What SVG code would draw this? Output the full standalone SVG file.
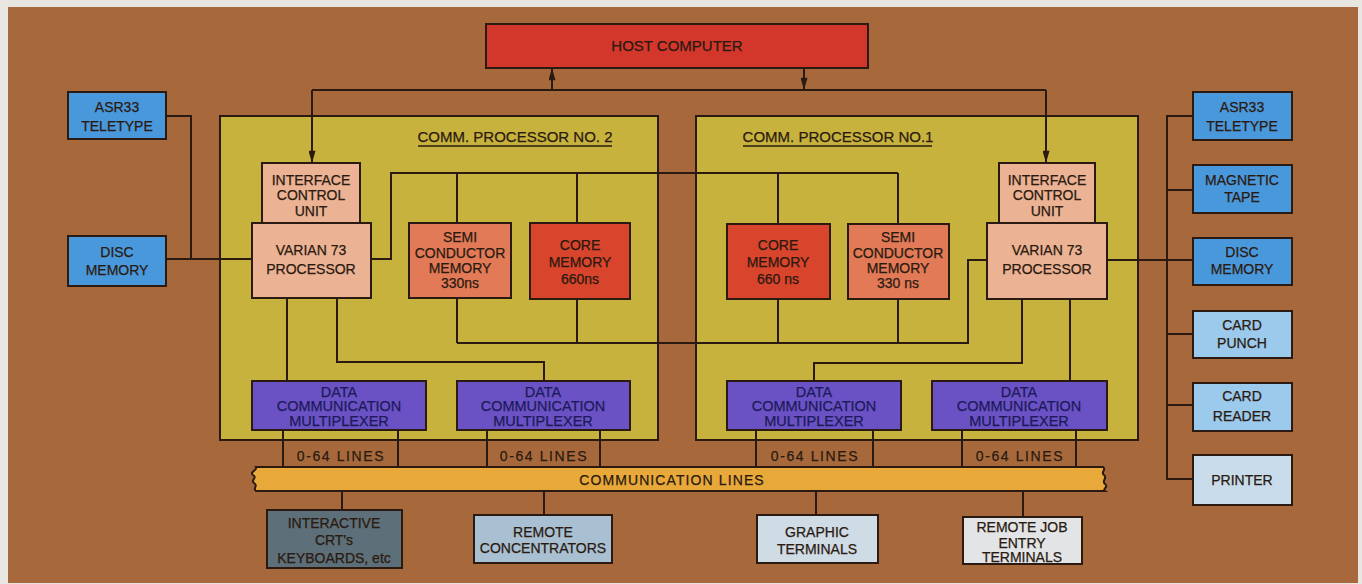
<svg xmlns="http://www.w3.org/2000/svg" width="1362" height="584" viewBox="0 0 1362 584">
<defs>
<style>
.t{font-family:"Liberation Sans",Arial,sans-serif;font-size:14px;fill:#2a1a10;text-anchor:middle;stroke:#2a1a10;stroke-width:0.25}
.big{font-size:15px}
.mx{fill:#1e1a5a;stroke:#1e1a5a;font-size:14.5px}
.sp{letter-spacing:1.6px}
.box{stroke:#2a1a12;stroke-width:2}
.ln{fill:none;stroke:#2a1a12;stroke-width:2}
.cp{fill:#c8b23e;stroke:#2a1a12;stroke-width:2}
.blue{fill:#4a98dc}
.lblue{fill:#9ccaec}
.vlblue{fill:#c9dcec}
.peach{fill:#ecb294}
.semi{fill:#e27a58}
.core{fill:#d8442c}
.mux{fill:#6a52c4}
</style>
<marker id="arr" viewBox="0 0 14 8" refX="14" refY="4" markerWidth="14" markerHeight="7" markerUnits="userSpaceOnUse" orient="auto">
<path d="M0,0 L14,4 L0,8 z" fill="#2a1a12"/>
</marker>
</defs>
<rect x="0" y="0" width="1362" height="584" fill="#e8e6e1"/>
<rect x="8" y="7" width="1350" height="576" fill="#a7693c"/>

<g id="cp2"><rect class="cp" x="220" y="116" width="438" height="324"/>
<text class="t big" x="515" y="142">COMM. PROCESSOR NO. 2</text>
<line x1="418" y1="146" x2="612" y2="146" stroke="#2a1a12" stroke-width="1.5"/></g>
<g id="cp1"><rect class="cp" x="696" y="116" width="442" height="324"/>
<text class="t big" x="838" y="142">COMM. PROCESSOR NO.1</text>
<line x1="743" y1="146" x2="932" y2="146" stroke="#2a1a12" stroke-width="1.5"/></g>

<g id="connectors">
<line class="ln" x1="552" y1="90" x2="552" y2="68" marker-end="url(#arr)"/>
<line class="ln" x1="804" y1="68" x2="804" y2="90" marker-end="url(#arr)"/>
<polyline class="ln" points="312,90 1046,90"/>
<line class="ln" x1="312" y1="90" x2="312" y2="163" marker-end="url(#arr)"/>
<line class="ln" x1="1046" y1="90" x2="1046" y2="163" marker-end="url(#arr)"/>
<polyline class="ln" points="166,116 191,116 191,259"/>
<line class="ln" x1="166" y1="259" x2="252" y2="259"/>
<polyline class="ln" points="371,259 391,259 391,173 898,173"/>
<line class="ln" x1="457" y1="173" x2="457" y2="223"/>
<line class="ln" x1="577" y1="173" x2="577" y2="223"/>
<line class="ln" x1="778" y1="173" x2="778" y2="223"/>
<line class="ln" x1="898" y1="173" x2="898" y2="223"/>
<polyline class="ln" points="987,260 968,260 968,343 457,343"/>
<line class="ln" x1="457" y1="299" x2="457" y2="343"/>
<line class="ln" x1="577" y1="299" x2="577" y2="343"/>
<line class="ln" x1="778" y1="299" x2="778" y2="343"/>
<line class="ln" x1="898" y1="299" x2="898" y2="343"/>
<line class="ln" x1="287" y1="298" x2="287" y2="381"/>
<polyline class="ln" points="337,298 337,362 544,362 544,381"/>
<polyline class="ln" points="1022,299 1022,363 814,363 814,381"/>
<line class="ln" x1="1070" y1="299" x2="1070" y2="381"/>
<line class="ln" x1="283" y1="430" x2="283" y2="467"/>
<line class="ln" x1="398" y1="430" x2="398" y2="467"/>
<line class="ln" x1="487" y1="430" x2="487" y2="467"/>
<line class="ln" x1="600" y1="430" x2="600" y2="467"/>
<line class="ln" x1="756" y1="430" x2="756" y2="467"/>
<line class="ln" x1="873" y1="430" x2="873" y2="467"/>
<line class="ln" x1="962" y1="430" x2="962" y2="467"/>
<line class="ln" x1="1076" y1="430" x2="1076" y2="467"/>
<line class="ln" x1="342" y1="491" x2="342" y2="510"/>
<line class="ln" x1="544" y1="491" x2="544" y2="515"/>
<line class="ln" x1="816" y1="491" x2="816" y2="515"/>
<line class="ln" x1="1023" y1="491" x2="1023" y2="517"/>
<line class="ln" x1="1107" y1="260" x2="1193" y2="260"/>
<polyline class="ln" points="1193,116 1167,116 1167,479 1193,479"/>
<line class="ln" x1="1167" y1="190" x2="1193" y2="190"/>
<line class="ln" x1="1167" y1="334" x2="1193" y2="334"/>
<line class="ln" x1="1167" y1="405" x2="1193" y2="405"/>
</g>

<g id="host"><rect class="box" x="486" y="24" width="382" height="44" fill="#d3372c"/>
<text class="t big" x="677" y="51">HOST COMPUTER</text></g>

<g id="asr33-left"><rect class="box blue" x="68" y="92" width="98" height="47"/>
<text class="t" x="117" y="112">ASR33</text><text class="t" x="117" y="131">TELETYPE</text></g>
<g id="disc-left"><rect class="box blue" x="68" y="236" width="98" height="50"/>
<text class="t" x="117" y="257">DISC</text><text class="t" x="117" y="275">MEMORY</text></g>

<g id="icu2"><rect class="box peach" x="262" y="163" width="98" height="60"/>
<text class="t" x="311" y="185">INTERFACE</text><text class="t" x="311" y="200">CONTROL</text><text class="t" x="311" y="216">UNIT</text></g>
<g id="proc2"><rect class="box peach" x="252" y="223" width="119" height="75"/>
<text class="t" x="311" y="255">VARIAN 73</text><text class="t" x="311" y="274">PROCESSOR</text></g>
<g id="semi2"><rect class="box semi" x="409" y="223" width="102" height="75"/>
<text class="t" x="460" y="242">SEMI</text><text class="t" x="460" y="258">CONDUCTOR</text><text class="t" x="460" y="273">MEMORY</text><text class="t" x="460" y="288">330ns</text></g>
<g id="core2"><rect class="box core" x="530" y="223" width="100" height="76"/>
<text class="t" x="580" y="250">CORE</text><text class="t" x="580" y="267">MEMORY</text><text class="t" x="580" y="284">660ns</text></g>

<g id="core1"><rect class="box core" x="727" y="224" width="103" height="75"/>
<text class="t" x="778" y="250">CORE</text><text class="t" x="778" y="267">MEMORY</text><text class="t" x="778" y="284">660 ns</text></g>
<g id="semi1"><rect class="box semi" x="848" y="224" width="101" height="75"/>
<text class="t" x="898" y="242">SEMI</text><text class="t" x="898" y="258">CONDUCTOR</text><text class="t" x="898" y="273">MEMORY</text><text class="t" x="898" y="288">330 ns</text></g>
<g id="icu1"><rect class="box peach" x="999" y="163" width="96" height="60"/>
<text class="t" x="1047" y="185">INTERFACE</text><text class="t" x="1047" y="200">CONTROL</text><text class="t" x="1047" y="216">UNIT</text></g>
<g id="proc1"><rect class="box peach" x="987" y="223" width="120" height="76"/>
<text class="t" x="1047" y="255">VARIAN 73</text><text class="t" x="1047" y="274">PROCESSOR</text></g>

<g id="mux1"><rect class="box mux" x="252" y="381" width="174" height="49"/>
<text class="t mx" x="339" y="397">DATA</text><text class="t mx" x="339" y="411">COMMUNICATION</text><text class="t mx" x="339" y="426">MULTIPLEXER</text></g>
<g id="mux2"><rect class="box mux" x="457" y="381" width="173" height="49"/>
<text class="t mx" x="543" y="397">DATA</text><text class="t mx" x="543" y="411">COMMUNICATION</text><text class="t mx" x="543" y="426">MULTIPLEXER</text></g>
<g id="mux3"><rect class="box mux" x="727" y="381" width="174" height="49"/>
<text class="t mx" x="814" y="397">DATA</text><text class="t mx" x="814" y="411">COMMUNICATION</text><text class="t mx" x="814" y="426">MULTIPLEXER</text></g>
<g id="mux4"><rect class="box mux" x="932" y="381" width="175" height="49"/>
<text class="t mx" x="1019" y="397">DATA</text><text class="t mx" x="1019" y="411">COMMUNICATION</text><text class="t mx" x="1019" y="426">MULTIPLEXER</text></g>

<g id="lines-labels">
<text class="t sp" x="341" y="461">0-64 LINES</text>
<text class="t sp" x="544" y="461">0-64 LINES</text>
<text class="t sp" x="815" y="461">0-64 LINES</text>
<text class="t sp" x="1020" y="461">0-64 LINES</text>
</g>

<g id="comm-lines">
<path class="box" fill="#e8a93a" d="M256,467 L1103,467 C1107,470 1100,472 1104,475 C1108,478 1101,481 1105,484 C1109,487 1102,489 1105,491 L256,491 C252,488 259,486 254,483 C250,480 258,478 253,475 C249,472 258,470 256,467 Z"/>
<text class="t" x="672" y="485" style="letter-spacing:1.1px">COMMUNICATION LINES</text></g>

<g id="crt"><rect class="box" x="267" y="510" width="135" height="58" fill="#5d6f78"/>
<text class="t" x="334" y="528">INTERACTIVE</text><text class="t" x="334" y="545">CRT's</text><text class="t" x="334" y="563">KEYBOARDS, etc</text></g>
<g id="concentrators"><rect class="box" x="474" y="515" width="138" height="48" fill="#a9c0d2"/>
<text class="t" x="543" y="537">REMOTE</text><text class="t" x="543" y="553">CONCENTRATORS</text></g>
<g id="graphic"><rect class="box" x="757" y="515" width="121" height="48" fill="#cfdbe5"/>
<text class="t" x="817" y="537">GRAPHIC</text><text class="t" x="817" y="554">TERMINALS</text></g>
<g id="rje"><rect class="box" x="963" y="517" width="119" height="47" fill="#e2e4e6"/>
<text class="t" x="1022" y="532">REMOTE JOB</text><text class="t" x="1022" y="548">ENTRY</text><text class="t" x="1022" y="562">TERMINALS</text></g>

<g id="asr33-right"><rect class="box blue" x="1193" y="92" width="99" height="48"/>
<text class="t" x="1242" y="112">ASR33</text><text class="t" x="1242" y="131">TELETYPE</text></g>
<g id="mag-tape"><rect class="box blue" x="1193" y="165" width="99" height="48"/>
<text class="t" x="1242" y="185">MAGNETIC</text><text class="t" x="1242" y="202">TAPE</text></g>
<g id="disc-right"><rect class="box blue" x="1193" y="238" width="99" height="47"/>
<text class="t" x="1242" y="257">DISC</text><text class="t" x="1242" y="274">MEMORY</text></g>
<g id="card-punch"><rect class="box lblue" x="1193" y="311" width="99" height="47"/>
<text class="t" x="1242" y="330">CARD</text><text class="t" x="1242" y="348">PUNCH</text></g>
<g id="card-reader"><rect class="box lblue" x="1193" y="383" width="99" height="48"/>
<text class="t" x="1242" y="401">CARD</text><text class="t" x="1242" y="421">READER</text></g>
<g id="printer"><rect class="box vlblue" x="1193" y="455" width="99" height="50"/>
<text class="t" x="1242" y="485">PRINTER</text></g>
</svg>
